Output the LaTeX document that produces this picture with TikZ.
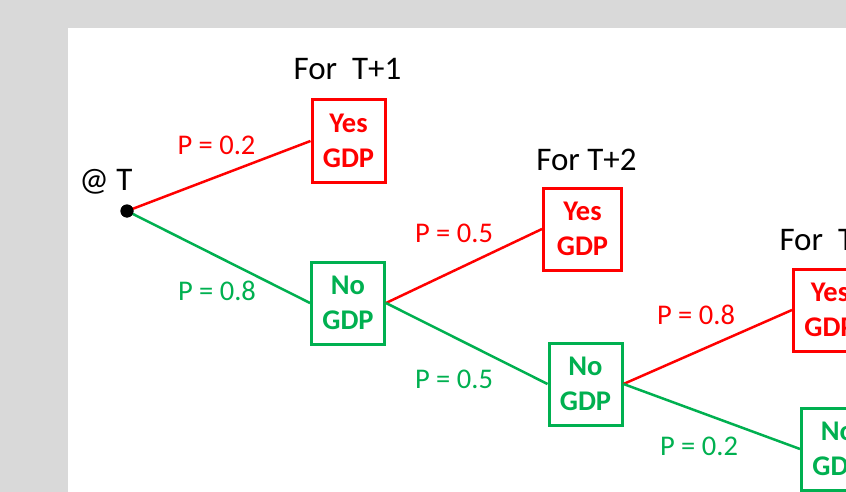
\documentclass[tikz,border=0pt]{standalone}
\usepackage{fontspec}
\setmainfont{Carlito}
\definecolor{pred}{HTML}{FF0000}
\definecolor{pgreen}{HTML}{00B050}
\definecolor{pgray}{HTML}{D9D9D9}
\begin{document}
\begin{tikzpicture}[x=1pt,y=-1pt,
  gbox/.style={draw, line width=3pt, minimum width=73pt, minimum height=82pt, inner sep=0pt, align=center, font=\fontsize{28.5}{35}\selectfont\bfseries},
  yesbox/.style={gbox, draw=pred, text=pred},
  nobox/.style={gbox, draw=pgreen, text=pgreen},
  plabel/.style={anchor=base, inner sep=0pt, font=\fontsize{28.5}{34}\selectfont},
  head/.style={anchor=base, inner sep=0pt, font=\fontsize{33}{40}\selectfont},
  redline/.style={draw=pred, line width=2.5pt},
  greenline/.style={draw=pgreen, line width=2.5pt}]
\useasboundingbox (0,0) rectangle (846,492);
\clip (0,0) rectangle (846,492);
\fill[pgray] (0,0) rectangle (846,492);
\fill[white] (68,28) rectangle (900,540);

% nodes
\node[fill=black, circle, minimum size=13pt, inner sep=0pt] (dot) at (127,211) {};
\node[yesbox] (y1) at (348.5,141) {Yes\\GDP};
\node[nobox]  (n1) at (348,303) {No\\GDP};
\node[yesbox, minimum width=78pt] (y2) at (582.5,229) {Yes\\GDP};
\node[nobox]  (n2) at (585.5,384) {No\\GDP};
\node[yesbox] (y3) at (830,310) {Yes\\GDP};
\node[nobox]  (n3) at (838,449) {No\\GDP};

% headings
\node[head] (at) at (106,190) {@ T};
\node[head] (h1) at (347.5,80) {For~~T+1};
\node[head] (h2) at (586.5,170.7) {For T+2};
\node[head, anchor=base west] (h3) at (779.3,250) {For~~T+3};

% edges
\draw[redline] (dot.center) -- (y1.west);
\draw[greenline] (dot.center) -- (n1.west);
\draw[redline] (n1.east) -- (y2.west);
\draw[greenline] (n1.east) -- (n2.west);
\draw[redline] (n2.east) -- (y3.west);
\draw[greenline] (n2.east) -- (n3.west);
\node[fill=black, circle, minimum size=13pt, inner sep=0pt] at (dot) {};

% probability labels
\node[plabel, text=pred] (p1) at (216.5,155) {P = 0.2};
\node[plabel, text=pgreen] (p2) at (217,300.7) {P = 0.8};
\node[plabel, text=pred] (p3) at (454,242.7) {P = 0.5};
\node[plabel, text=pgreen] (p4) at (454,388.3) {P = 0.5};
\node[plabel, text=pred] (p5) at (696,324.3) {P = 0.8};
\node[plabel, text=pgreen] (p6) at (699,455) {P = 0.2};
\end{tikzpicture}
\end{document}
